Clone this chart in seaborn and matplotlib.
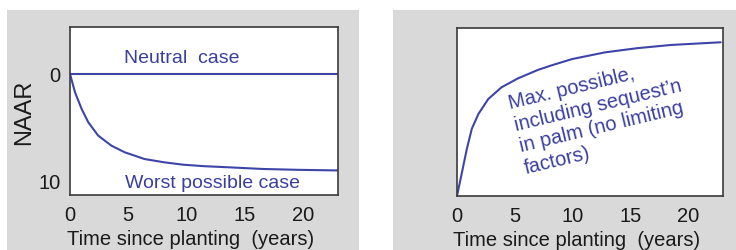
import matplotlib
matplotlib.use("Agg")
import matplotlib.pyplot as plt
from matplotlib.patches import Rectangle
import numpy as np
import pandas as pd
import seaborn as sns

# ---- data ----
worst_years = [0, 0.43, 1.0, 1.57, 2.42, 3.56, 4.7, 6.4, 8.1, 9.7, 11.5,
               13.7, 16.5, 19.5, 23.0]
worst_naar = [0, 1.72, 3.28, 4.53, 5.78, 6.72, 7.34, 7.97, 8.28, 8.5, 8.64,
              8.75, 8.9, 8.98, 9.04]
neutral_years = [0, 23.0]
neutral_naar = [0, 0]
max_years = [0, 0.43, 0.85, 1.28, 1.85, 2.7, 3.85, 5.27, 6.98, 8.1, 9.94,
             12.8, 15.6, 18.5, 22.8]
max_naar = [0, 0.141, 0.28, 0.40, 0.488, 0.577, 0.647, 0.70, 0.75, 0.776,
            0.815, 0.855, 0.88, 0.899, 0.915]
x_ticks = [0, 5, 10, 15, 20]
y_ticks_left = [0, 10]

LINE = "#3d45a8"
TEXT = "#3a3f9e"
GREY = "#d9d9d9"

sns.set_theme(style="white")
plt.rcParams["font.family"] = ["Liberation Sans", "DejaVu Sans"]

W, H = 736, 251
fig = plt.figure(figsize=(W / 100, H / 100), dpi=100)
fig.patches.append(Rectangle((7 / W, 0), 352 / W, 1 - 11 / H, transform=fig.transFigure,
                             facecolor=GREY, edgecolor="none", zorder=-5))
fig.patches.append(Rectangle((393 / W, 0), 343 / W, 1 - 11 / H, transform=fig.transFigure,
                             facecolor=GREY, edgecolor="none", zorder=-5))

ax1 = fig.add_axes([70 / W, 1 - 196 / H, 268 / W, 168 / H])
ax2 = fig.add_axes([457 / W, 1 - 197 / H, 266 / W, 168 / H])

for ax in (ax1, ax2):
    ax.set_facecolor("white")
    for s in ax.spines.values():
        s.set_visible(True)
        s.set_color("#3a3a3a")
        s.set_linewidth(1.2)
    ax.set_xlim(0, 23)
    ax.set_xticks(x_ticks)
    ax.tick_params(axis="both", length=0, labelsize=14.5, pad=7, labelcolor="#1a1a1a")
    ax.set_xlabel("Time since planting  (years)", fontsize=14.5, color="#1a1a1a")
    ax.xaxis.set_label_coords(0.45, -0.2)

# left panel
sns.lineplot(x=neutral_years, y=neutral_naar, ax=ax1, color=LINE, linewidth=1.5)
sns.lineplot(x=worst_years, y=worst_naar, ax=ax1, color=LINE, linewidth=1.5)
ax1.set_ylim(11.34, -4.4)
ax1.set_yticks(y_ticks_left)
ax1.set_ylabel("NAAR", fontsize=17, color="#1a1a1a")
ax1.yaxis.set_label_coords(-0.13, 0.5)
ax1.text(9.6, -1.5, "Neutral  case", color=TEXT, fontsize=14, ha="center", va="center")
ax1.text(12.2, 10.2, "Worst possible case", color=TEXT, fontsize=14, ha="center", va="center")

# right panel
sns.lineplot(x=max_years, y=max_naar, ax=ax2, color=LINE, linewidth=1.5)
ax2.set_ylim(0, 1)
ax2.set_yticks([])
ax2.text(12.4, 0.48, "Max. possible,\nincluding sequest\u2019n\nin palm (no limiting\nfactors)",
         color=TEXT, fontsize=14.5, ha="center", va="center", rotation=13.5,
         multialignment="left", linespacing=1.22)

fig.savefig("out.png", dpi=100)
